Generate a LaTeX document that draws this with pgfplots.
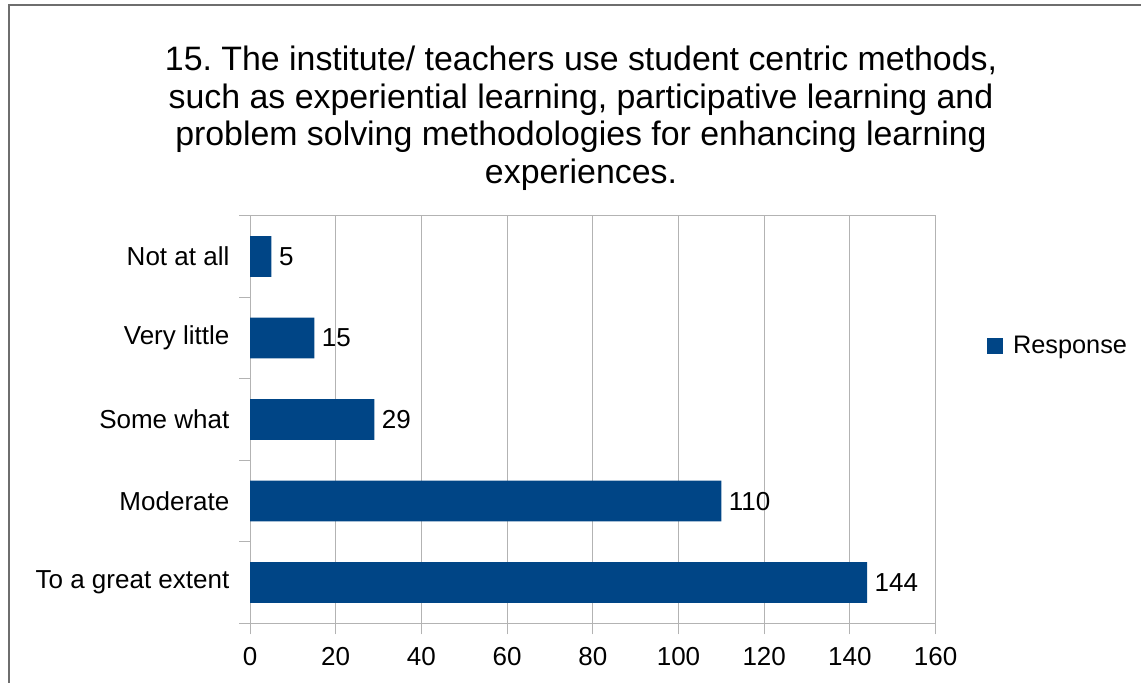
\documentclass[border=0pt]{standalone}
\usepackage{pgfplots}
\pgfplotsset{compat=1.18}
\usepackage{fontspec}
\setmainfont{Liberation Sans}
\frenchspacing
\definecolor{barblue}{HTML}{004586}
\definecolor{gridgray}{HTML}{B3B3B3}
\definecolor{framegray}{HTML}{6E6E6E}
\begin{document}
\begin{tikzpicture}
\useasboundingbox (0pt,0pt) rectangle (855.75pt,511.5pt);
\begin{scope}
\clip (0pt,0pt) rectangle (855.75pt,511.5pt);
\draw[color=framegray, line width=1.1pt] (6.75pt,-10pt) -- (6.75pt,507.75pt) -- (870pt,507.75pt);
\end{scope}
\begin{scope}[font=\fontsize{25.4}{30}\selectfont]
\node[anchor=base, inner sep=0pt] at (435.75pt,458.5pt) {15. The institute/ teachers use student centric methods,};
\node[anchor=base, inner sep=0pt] at (435.75pt,430.25pt) {such as experiential learning, participative learning and};
\node[anchor=base, inner sep=0pt] at (435.75pt,402.0pt) {problem solving methodologies for enhancing learning};
\node[anchor=base, inner sep=0pt] at (435.75pt,373.75pt) {experiences.};
\end{scope}
\begin{axis}[
  at={(187.5pt,44.0pt)}, anchor=south west,
  scale only axis,
  width=514.2pt, height=305.7pt,
  xbar, bar width=0.5,
  xmin=0, xmax=160,
  ymin=-0.5, ymax=4.5,
  xtick={0,20,...,160},
  ytick={-0.5,0.5,1.5,2.5,3.5,4.5},
  yticklabels={},
  extra y ticks={0,1,2,3,4},
  extra y tick labels={To a great extent,Moderate,Some what,Very little,Not at all},
  extra y tick style={major tick length=0pt, yticklabel style={xshift=-15.3pt}},
  ytick style={gridgray, line width=0.75pt},
  xtick style={gridgray, line width=0.75pt},
  tick align=outside,
  tick pos=left,
  major tick length=8.25pt,
  xmajorgrids,
  grid style={gridgray, line width=0.75pt},
  axis line style={gridgray, line width=0.75pt},
  /pgf/number format/assume math mode=true,
  tick label style={font=\fontsize{19.5}{23}\selectfont, text=black},
  xticklabel style={anchor=north, inner sep=0pt, yshift=-9.75pt},
  yticklabel style={anchor=east, inner sep=0pt},
  nodes near coords,
  every node near coord/.append style={font=\fontsize{19.5}{23}\selectfont, text=black, anchor=west, inner sep=0pt, xshift=5.5pt},
  legend style={draw=none, fill=none, inner sep=0pt, outer sep=0pt, at={(1.075,0.6815)}, anchor=west,
    font=\fontsize{19}{23}\selectfont, nodes={inner sep=0pt}},
  legend image code/.code={\fill[barblue] (0pt,-6pt) rectangle (12pt,6pt); \path (19.5pt,0pt);},
]
\addplot[fill=barblue, draw=none] coordinates {(144,0) (110,1) (29,2) (15,3) (5,4)};
\addlegendentry{Response}
\end{axis}
\end{tikzpicture}
\end{document}
